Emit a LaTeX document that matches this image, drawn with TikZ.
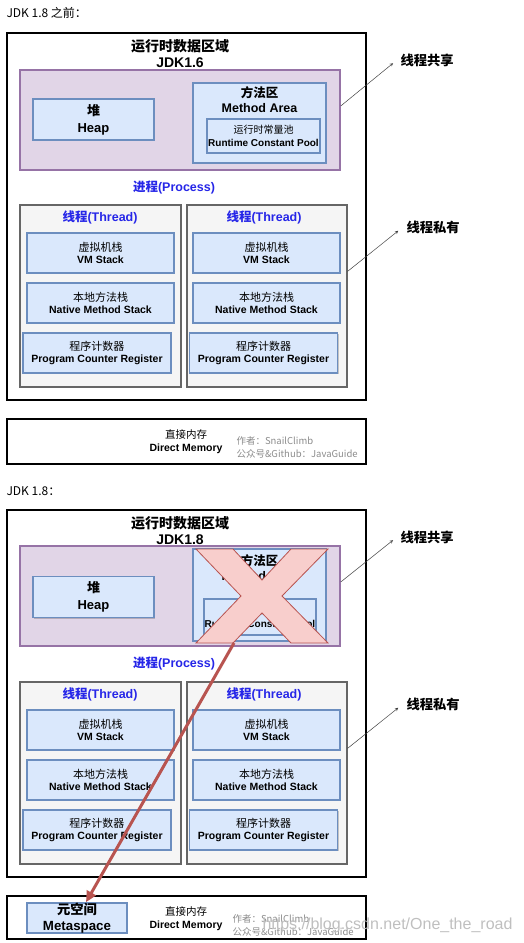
\documentclass[tikz,border=0pt]{standalone}
\usepackage{fontspec}
\setmainfont{Liberation Sans}
\newfontfamily\cjk{Noto Sans CJK SC}
\usetikzlibrary{positioning,shadows,arrows.meta}

\definecolor{sharedfill}{HTML}{E1D5E7}
\definecolor{shareddraw}{HTML}{9673A6}
\definecolor{memfill}{HTML}{DAE8FC}
\definecolor{memdraw}{HTML}{6C8EBF}
\definecolor{threadfill}{HTML}{F5F5F5}
\definecolor{threaddraw}{HTML}{666666}
\definecolor{crossfill}{HTML}{F8CECC}
\definecolor{crossdraw}{HTML}{B85450}
\definecolor{titleblue}{HTML}{2626E8}

\tikzset{
  boxshadow/.style={drop shadow={shadow xshift=1.2pt,shadow yshift=-1.2pt,fill=black,opacity=0.2}},
  outerbox/.style={draw=black, line width=1.8pt, fill=white, boxshadow},
  sharedbox/.style={draw=shareddraw, fill=sharedfill, line width=1.6pt, boxshadow},
  membox/.style={draw=memdraw, fill=memfill, line width=1.6pt, boxshadow, align=center,
    inner sep=0pt, font=\bfseries\fontsize{10.5}{12.5}\selectfont},
  threadbox/.style={draw=threaddraw, fill=threadfill, line width=1.2pt, boxshadow},
  bluetitle/.style={text=titleblue, font=\bfseries\fontsize{12.5}{15}\selectfont},
  note/.style={anchor=west, font=\cjk\bfseries\fontsize{13.3}{16}\selectfont},
  author/.style={text=black!45, align=left, anchor=west, font=\cjk\fontsize{9.5}{13}\selectfont},
  pointer/.style={-stealth, line width=0.5pt, draw=black!75},
}

\begin{document}
\begin{tikzpicture}[x=1pt,y=-1pt]
  \useasboundingbox (0,0) rectangle (524,943);

  % before JDK 1.8
  \node[anchor=west, font=\cjk\fontsize{12}{14}\selectfont] (head-a) at (3,13) {JDK 1.8 之前：};
  \node[outerbox, minimum width=359pt, minimum height=367pt] (outer-a) at (186.5,216.5) {};
  \node[align=center, font=\bfseries\fontsize{14}{16}\selectfont] (title-a) at (180,54) {{\cjk 运行时数据区域}\\JDK1.6};
  \node[sharedbox, minimum width=320pt, minimum height=100pt] (shared-a) at (180,120) {};
  \node[membox, minimum width=121pt, minimum height=41pt, font=\bfseries\fontsize{13}{17}\selectfont] (heap-a) at (93.5,119.5) {{\cjk 堆}\\Heap};
  \node[membox, minimum width=133pt, minimum height=80pt] (method-a) at (259.5,123) {};
  \node[below=1pt of method-a.north, align=center, font=\bfseries\fontsize{12.5}{15}\selectfont] (methodtxt-a) {{\cjk 方法区}\\Method Area};
  \node[membox, minimum width=113pt, minimum height=34pt, font=\bfseries\fontsize{10}{12.5}\selectfont] (pool-a) at (263.5,136) {{\cjk\mdseries 运行时常量池}\\Runtime Constant Pool};
  \node[bluetitle] (process-a) at (174,187) {{\cjk 进程}(Process)};

  \node[threadbox, minimum width=161pt, minimum height=182pt] (thread-a1) at (100.5,296) {};
  \node[threadbox, minimum width=160pt, minimum height=182pt] (thread-a2) at (267,296) {};
  \node[bluetitle] (threadtxt-a1) at (100,217) {{\cjk 线程}(Thread)};
  \node[bluetitle] (threadtxt-a2) at (264,217) {{\cjk 线程}(Thread)};
  \node[membox, minimum width=147pt, minimum height=40pt] (vm-a1) at (100.5,253) {{\cjk\mdseries\fontsize{11}{12.5}\selectfont 虚拟机栈}\\VM Stack};
  \node[membox, minimum width=147pt, minimum height=40pt] (vm-a2) at (266.5,253) {{\cjk\mdseries\fontsize{11}{12.5}\selectfont 虚拟机栈}\\VM Stack};
  \node[membox, minimum width=147pt, minimum height=40pt] (native-a1) at (100.5,303) {{\cjk\mdseries\fontsize{11}{12.5}\selectfont 本地方法栈}\\Native Method Stack};
  \node[membox, minimum width=147pt, minimum height=40pt] (native-a2) at (266.5,303) {{\cjk\mdseries\fontsize{11}{12.5}\selectfont 本地方法栈}\\Native Method Stack};
  \node[membox, minimum width=148pt, minimum height=40pt] (pc-a1) at (97,353) {{\cjk\mdseries\fontsize{11}{12.5}\selectfont 程序计数器}\\Program Counter Register};
  \node[membox, minimum width=148pt, minimum height=40pt] (pc-a2) at (263.5,353) {{\cjk\mdseries\fontsize{11}{12.5}\selectfont 程序计数器}\\Program Counter Register};

  \node[note] (sharednote-a) at (397,60) {线程共享};
  \node[note] (privatenote-a) at (403,227) {线程私有};
  \draw[pointer, shorten >=5pt] (shared-a.5) -- (sharednote-a.west);
  \draw[pointer, shorten >=6pt] (thread-a2.17) -- (privatenote-a.west);

  \node[outerbox, minimum width=359pt, minimum height=45pt] (direct-a) at (186.5,441.5) {};
  \node[align=center, font=\bfseries\fontsize{10.5}{13}\selectfont] (directtxt-a) at (186,441.5) {{\cjk\mdseries 直接内存}\\Direct Memory};
  \node[author] (author-a) at (233,447.5) {作者：SnailClimb\\公众号\&Github：JavaGuide};

  % JDK 1.8
  \node[anchor=west, font=\cjk\fontsize{12}{14}\selectfont] (head-b) at (3,491) {JDK 1.8：};
  \node[outerbox, minimum width=359pt, minimum height=367pt] (outer-b) at (186.5,693.5) {};
  \node[align=center, font=\bfseries\fontsize{14}{16}\selectfont] (title-b) at (180,531) {{\cjk 运行时数据区域}\\JDK1.8};
  \node[sharedbox, minimum width=320pt, minimum height=100pt] (shared-b) at (180,596) {};
  \node[membox, minimum width=121pt, minimum height=41pt, font=\bfseries\fontsize{13}{17}\selectfont] (heap-b) at (93.5,597) {{\cjk 堆}\\Heap};
  \node[membox, minimum width=133pt, minimum height=92pt] (method-b) at (259.5,595) {};
  \node[below=3pt of method-b.north, align=center, font=\bfseries\fontsize{12.5}{15}\selectfont] (methodtxt-b) {{\cjk 方法区}\\Method Area};
  \node[membox, minimum width=112pt, minimum height=36pt, font=\bfseries\fontsize{10}{12.5}\selectfont] (pool-b) at (260,617) {{\cjk\mdseries 运行时常量池}\\Runtime Constant Pool};
  \node[bluetitle] (process-b) at (174,663) {{\cjk 进程}(Process)};

  \node[threadbox, minimum width=161pt, minimum height=182pt] (thread-b1) at (100.5,773) {};
  \node[threadbox, minimum width=160pt, minimum height=182pt] (thread-b2) at (267,773) {};
  \node[bluetitle] (threadtxt-b1) at (100,694) {{\cjk 线程}(Thread)};
  \node[bluetitle] (threadtxt-b2) at (264,694) {{\cjk 线程}(Thread)};
  \node[membox, minimum width=147pt, minimum height=40pt] (vm-b1) at (100.5,730) {{\cjk\mdseries\fontsize{11}{12.5}\selectfont 虚拟机栈}\\VM Stack};
  \node[membox, minimum width=147pt, minimum height=40pt] (vm-b2) at (266.5,730) {{\cjk\mdseries\fontsize{11}{12.5}\selectfont 虚拟机栈}\\VM Stack};
  \node[membox, minimum width=147pt, minimum height=40pt] (native-b1) at (100.5,780) {{\cjk\mdseries\fontsize{11}{12.5}\selectfont 本地方法栈}\\Native Method Stack};
  \node[membox, minimum width=147pt, minimum height=40pt] (native-b2) at (266.5,780) {{\cjk\mdseries\fontsize{11}{12.5}\selectfont 本地方法栈}\\Native Method Stack};
  \node[membox, minimum width=148pt, minimum height=40pt] (pc-b1) at (97,830) {{\cjk\mdseries\fontsize{11}{12.5}\selectfont 程序计数器}\\Program Counter Register};
  \node[membox, minimum width=148pt, minimum height=40pt] (pc-b2) at (263.5,830) {{\cjk\mdseries\fontsize{11}{12.5}\selectfont 程序计数器}\\Program Counter Register};

  \node[note] (sharednote-b) at (397,537) {线程共享};
  \node[note] (privatenote-b) at (403,704) {线程私有};
  \draw[pointer, shorten >=5pt] (shared-b.5) -- (sharednote-b.west);
  \draw[pointer, shorten >=6pt] (thread-b2.17) -- (privatenote-b.west);

  \node[outerbox, minimum width=359pt, minimum height=43pt] (direct-b) at (186.5,917.5) {};
  \node[membox, minimum width=100pt, minimum height=30pt] (meta) at (77,918) {};
  \node[align=center, font=\bfseries\fontsize{13.3}{16}\selectfont] (metatxt) at (77,918) {{\cjk 元空间}\\Metaspace};
  \node[align=center, font=\bfseries\fontsize{10.5}{13}\selectfont] (directtxt-b) at (186,918.5) {{\cjk\mdseries 直接内存}\\Direct Memory};
  \node[author] (author-b) at (229,925.5) {作者：SnailClimb\\公众号\&Github：JavaGuide};

  % removed method area
  \draw[fill=crossfill, draw=crossdraw, line width=0.8pt]
    (196,549) -- (233,549) -- (262,580) -- (291,549) -- (328,549) -- (282,596)
    -- (328,643) -- (291,643) -- (262,613) -- (233,643) -- (196,643) -- (241,596) -- cycle;
  \coordinate (crossfoot) at (234,643);
  \draw[crossdraw, line width=3pt, -{Triangle[length=11pt,width=10pt]}] (crossfoot) -- (meta);

  \node[anchor=east, text=black!25, font=\fontsize{16}{18}\selectfont] (mark) at (516,925) {https://blog.csdn.net/One\_the\_road};
\end{tikzpicture}
\end{document}
